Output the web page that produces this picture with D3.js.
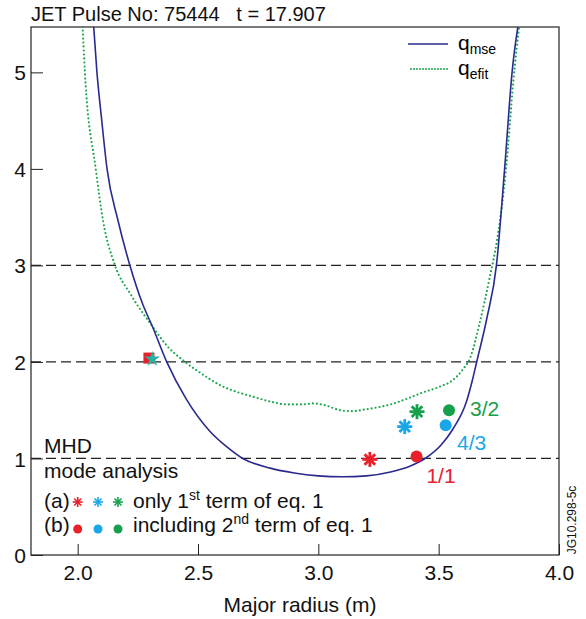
<!DOCTYPE html>
<html>
<head>
<meta charset="utf-8">
<script src="https://cdn.jsdelivr.net/npm/d3@7"></script>
<style>
  body { margin: 0; background: #fff; }
  text { font-family: "Liberation Sans", Arial, Helvetica, sans-serif; }
</style>
</head>
<body>
<svg id="chart" width="586" height="619"></svg>
<script>
// q profiles (major radius R in m, safety factor q)
var qMse = [[2.063,5.6],[2.08,5.0],[2.1,4.5],[2.122,4.0],[2.167,3.47],[2.217,3.0],[2.27,2.6],
  [2.31,2.37],[2.37,2.0],[2.45,1.62],[2.55,1.28],[2.62,1.12],[2.686,1.0],[2.8,0.9],[2.9,0.85],
  [3.0,0.82],[3.1,0.81],[3.2,0.82],[3.3,0.86],[3.38,0.92],[3.443,1.0],[3.51,1.14],[3.558,1.3],
  [3.617,1.6],[3.64,1.81],[3.658,2.0],[3.7,2.45],[3.74,3.0],[3.774,4.0],[3.805,5.0],[3.837,5.6]];
var qEfit = [[2.018,5.6],[2.03,5.0],[2.075,4.0],[2.105,3.47],[2.155,3.0],[2.22,2.7],[2.31,2.37],
  [2.37,2.17],[2.446,2.0],[2.52,1.87],[2.591,1.76],[2.66,1.69],[2.728,1.64],[2.8,1.59],[2.869,1.56],
  [2.93,1.56],[2.98,1.57],[3.03,1.55],[3.09,1.5],[3.14,1.49],[3.2,1.51],[3.3,1.56],[3.37,1.62],
  [3.43,1.68],[3.5,1.74],[3.558,1.81],[3.6,1.92],[3.632,2.05],[3.67,2.4],[3.71,2.85],[3.745,3.3],
  [3.78,4.0],[3.81,4.9],[3.84,5.6]];

// MHD mode positions
var asterisks = [
  {R: 3.214, q: 0.99, c: "#e8202a"},
  {R: 3.359, q: 1.33, c: "#1aa7e8"},
  {R: 3.41, q: 1.485, c: "#17a04c"}
];
var dots = [
  {R: 3.408, q: 1.02, c: "#e8202a"},
  {R: 3.529, q: 1.344, c: "#1aa7e8"},
  {R: 3.543, q: 1.50, c: "#17a04c"}
];
var modeLabels = [
  {R: 3.449, q: 0.746, t: "1/1", c: "#e8202a"},
  {R: 3.576, q: 1.088, t: "4/3", c: "#1aa7e8"},
  {R: 3.630, q: 1.44, t: "3/2", c: "#17a04c"}
];
var square = {R: 2.296, q: 2.04};
var star = {R: 2.31, q: 2.03};

var xTicks = [2.0, 2.5, 3.0, 3.5, 4.0];
var yTicks = [0, 1, 2, 3, 4, 5];
var dashedLevels = [1, 2, 3];

var svg = d3.select("#chart");
var margin = {left: 31, top: 27, right: 27, bottom: 64};
var width = 586 - margin.left - margin.right;
var height = 619 - margin.top - margin.bottom;

var x = d3.scaleLinear().domain([1.806, 4.0]).range([0, width]);
var y = d3.scaleLinear().domain([0, 5.47]).range([height, 0]);

var g = svg.append("g").attr("transform", "translate(" + margin.left + "," + margin.top + ")");

g.append("clipPath").attr("id", "clip")
  .append("rect").attr("width", width).attr("height", height);

// axes, ticks point inward
var xAxis = g.append("g")
  .attr("transform", "translate(0," + height + ")")
  .call(d3.axisBottom(x).tickValues(xTicks).tickFormat(d3.format(".1f")).tickSize(-11).tickSizeOuter(0).tickPadding(10));
var yAxis = g.append("g")
  .call(d3.axisLeft(y).tickValues(yTicks).tickFormat(d3.format("d")).tickSize(-12).tickSizeOuter(0).tickPadding(5));
[xAxis, yAxis].forEach(function(a) {
  a.select(".domain").remove();
  a.selectAll("line").attr("stroke", "#222");
  a.selectAll("text").style("font-size", "21px").attr("fill", "#111")
    .style("font-family", "'Liberation Sans', Arial, sans-serif");
});
yAxis.selectAll("text").attr("dy", "0.36em");

g.append("rect").attr("width", width).attr("height", height)
  .attr("fill", "none").attr("stroke", "#222").attr("stroke-width", 1.2);

g.selectAll(".level").data(dashedLevels).join("line")
  .attr("x1", 0).attr("x2", width)
  .attr("y1", d => y(d)).attr("y2", d => y(d))
  .attr("stroke", "#222").attr("stroke-width", 1.2).attr("stroke-dasharray", "10,5");

var line = d3.line().x(d => x(d[0])).y(d => y(d[1])).curve(d3.curveMonotoneX);

var curves = g.append("g").attr("clip-path", "url(#clip)");
curves.append("path").datum(qEfit).attr("d", line)
  .attr("fill", "none").attr("stroke", "#1aa64e").attr("stroke-width", 2.2)
  .attr("stroke-linecap", "round").attr("stroke-dasharray", "0,4");
curves.append("path").datum(qMse).attr("d", line)
  .attr("fill", "none").attr("stroke", "#2a2a8e").attr("stroke-width", 1.6);

function asterisk(sel, cx, cy, r, col, w) {
  for (var i = 0; i < 4; i++) {
    var a = i * Math.PI / 4;
    sel.append("line")
      .attr("x1", cx - r * Math.cos(a)).attr("y1", cy - r * Math.sin(a))
      .attr("x2", cx + r * Math.cos(a)).attr("y2", cy + r * Math.sin(a))
      .attr("stroke", col).attr("stroke-width", w);
  }
}

g.append("rect")
  .attr("x", x(square.R) - 5.5).attr("y", y(square.q) - 5.5)
  .attr("width", 11).attr("height", 11).attr("fill", "#e8202a");
g.append("path")
  .attr("transform", "translate(" + x(star.R) + "," + y(star.q) + ")")
  .attr("d", d3.symbol().type(d3.symbolStar).size(75)())
  .attr("fill", "#22b3a6");

asterisks.forEach(function(d) { asterisk(g, x(d.R), y(d.q), 7.5, d.c, 2.8); });
g.selectAll(".dot").data(dots).join("circle")
  .attr("cx", d => x(d.R)).attr("cy", d => y(d.q)).attr("r", 6)
  .attr("fill", d => d.c);
g.selectAll(".mlab").data(modeLabels).join("text")
  .attr("x", d => x(d.R)).attr("y", d => y(d.q))
  .attr("fill", d => d.c)
  .style("font-size", "21px").text(d => d.t);

// annotation block
var ann = g.append("g").style("font-size", "21px").attr("fill", "#111");
ann.append("text").attr("x", 13).attr("y", 426).text("MHD");
ann.append("text").attr("x", 13).attr("y", 451).text("mode analysis");
ann.append("text").attr("x", 13).attr("y", 481).text("(a)");
ann.append("text").attr("x", 13).attr("y", 505).text("(b)");
var legX = [46.7, 67, 87];
legX.forEach(function(lx, i) {
  asterisk(ann, lx, 475, 5, asterisks[i].c, 1.6);
  ann.append("circle").attr("cx", lx).attr("cy", 502).attr("r", 4.5).attr("fill", dots[i].c);
});
var ta = ann.append("text").attr("x", 102).attr("y", 481);
ta.append("tspan").text("only 1");
ta.append("tspan").attr("dy", -8).style("font-size", "14px").text("st");
ta.append("tspan").attr("dy", 8).text(" term of eq. 1");
var tb = ann.append("text").attr("x", 102).attr("y", 505);
tb.append("tspan").text("including 2");
tb.append("tspan").attr("dy", -8).style("font-size", "14px").text("nd");
tb.append("tspan").attr("dy", 8).text(" term of eq. 1");

// legend
var leg = g.append("g").attr("transform", "translate(" + (width - 151) + ",17)");
leg.append("line").attr("x1", 0).attr("x2", 40).attr("y1", 0).attr("y2", 0)
  .attr("stroke", "#2a2a8e").attr("stroke-width", 1.6);
leg.append("line").attr("x1", 3).attr("x2", 40).attr("y1", 25).attr("y2", 25)
  .attr("stroke", "#1aa64e").attr("stroke-width", 2).attr("stroke-linecap", "round")
  .attr("stroke-dasharray", "0,3");
var l1 = leg.append("text").attr("x", 50).attr("y", 6).style("font-size", "21px");
l1.append("tspan").text("q");
l1.append("tspan").attr("dy", 4).style("font-size", "14px").text("mse");
var l2 = leg.append("text").attr("x", 50).attr("y", 31).style("font-size", "21px");
l2.append("tspan").text("q");
l2.append("tspan").attr("dy", 4).style("font-size", "14px").text("efit");

// titles
svg.append("text").attr("x", 31).attr("y", 21).style("font-size", "20px").attr("fill", "#111")
  .attr("xml:space", "preserve").text("JET Pulse No: 75444   t = 17.907");
svg.append("text").attr("x", 300).attr("y", 612)
  .attr("text-anchor", "middle").style("font-size", "21px").attr("fill", "#111")
  .text("Major radius (m)");
svg.append("text").attr("transform", "translate(576,520) rotate(-90)")
  .attr("text-anchor", "middle").style("font-size", "12px").attr("fill", "#111")
  .text("JG10.298-5c");
</script>
</body>
</html>
